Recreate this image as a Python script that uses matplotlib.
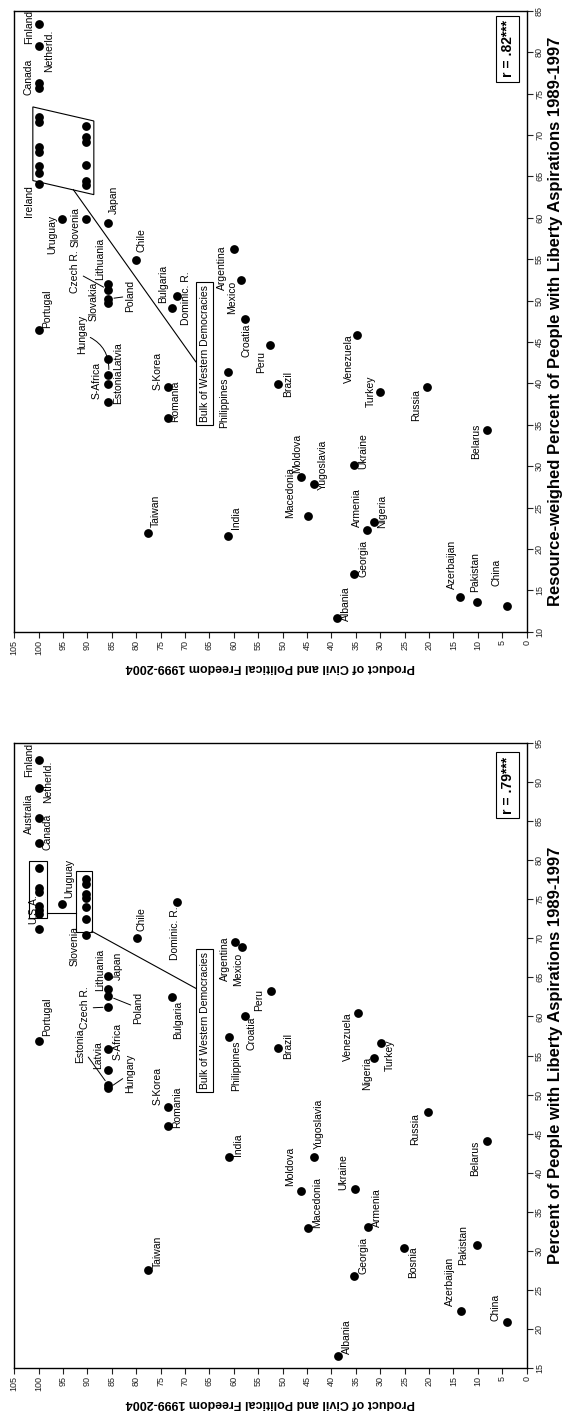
import matplotlib
matplotlib.use('Agg')
import matplotlib.pyplot as plt
from matplotlib.patches import Polygon, Rectangle

plt.rcParams['font.family'] = ['Liberation Sans', 'DejaVu Sans']

# ---- top panel: resource-weighed aspirations vs freedom ----
top_names = ['Finland', 'Netherld.', 'Canada', '',
             '', '', '', '', '', '',
             '', '', '', '', '', '',
             'Ireland', 'Uruguay', 'Slovenia', 'Japan', 'Chile',
             'Lithuania', 'Czech R.', 'Poland', 'Slovakia', 'Portugal',
             'Bulgaria', 'Dominic. R.', 'Argentina', 'Mexico', 'Croatia', 'Peru',
             'Latvia', 'Hungary', 'S-Africa', 'Estonia', 'S-Korea', 'Romania',
             'Philippines', 'Brazil', 'Taiwan', 'India', 'Venezuela', 'Turkey',
             'Russia', 'Belarus', 'Ukraine', 'Moldova', 'Yugoslavia', 'Macedonia',
             'Armenia', 'Nigeria', 'Georgia', 'Albania', 'Azerbaijan', 'Pakistan', 'China']
top_freedom = [100, 100, 100, 100,
               100, 100, 100, 100, 100, 100,
               90.4, 90.4, 90.4, 90.4, 90.4, 90.4,
               100, 95.2, 90.4, 85.7, 80.1,
               85.7, 85.7, 85.7, 85.7, 100,
               72.7, 71.7, 59.9, 58.6, 57.7, 52.5,
               85.7, 85.7, 85.7, 85.7, 73.4, 73.4,
               61.3, 51.0, 77.5, 61.3, 34.7, 30.1,
               20.5, 8.2, 35.4, 46.3, 43.6, 44.9,
               32.7, 31.3, 35.4, 38.8, 13.7, 10.2, 4.1]
top_aspir = [83.4, 80.7, 76.3, 75.7,
             72.2, 71.6, 68.5, 67.9, 66.2, 65.4,
             71.1, 69.8, 69.2, 66.4, 64.5, 64.0,
             64.1, 59.8, 59.8, 59.4, 54.9,
             51.95, 51.3, 50.2, 49.7, 46.5,
             49.1, 50.6, 56.2, 52.5, 47.8, 44.6,
             42.9, 41.0, 39.9, 37.8, 39.5, 35.8,
             41.4, 39.9, 21.9, 21.5, 45.9, 38.9,
             39.5, 34.4, 30.1, 28.7, 27.8, 24.0,
             22.3, 23.2, 17.0, 11.6, 14.2, 13.6, 13.1]

# ---- bottom panel: plain aspirations vs freedom ----
bot_names = ['Finland', 'Netherld.', 'Australia', 'Canada',
             '', '', '', '', '', '',
             'U.S.A.', 'Uruguay',
             '', '', '', '', '', '',
             'Slovenia', 'Chile', 'Dominic. R.', 'Japan', 'Lithuania', 'Poland',
             'Czech R.', 'Bulgaria', 'Argentina', 'Mexico', 'Peru', 'Croatia',
             'Philippines', 'Portugal', 'Brazil', 'S-Africa', 'Latvia', 'Estonia',
             'Hungary', 'S-Korea', 'Romania', 'India', 'Taiwan', 'Venezuela',
             'Turkey', 'Nigeria', 'Russia', 'Belarus', 'Yugoslavia', 'Moldova',
             'Ukraine', 'Macedonia', 'Armenia', 'Bosnia', 'Pakistan', 'Georgia',
             'Azerbaijan', 'China', 'Albania']
bot_freedom = [100, 100, 100, 100,
               100, 100, 100, 100, 100, 100,
               100, 95.2,
               90.4, 90.4, 90.4, 90.4, 90.4, 90.4,
               90.4, 79.9, 71.7, 85.7, 85.7, 85.7,
               85.7, 72.7, 59.8, 58.4, 52.3, 57.7,
               61.1, 100, 50.9, 85.7, 85.7, 85.7,
               85.7, 73.4, 73.4, 61.1, 77.5, 34.6,
               29.9, 31.2, 20.3, 8.1, 43.5, 46.3,
               35.2, 44.9, 32.6, 25.1, 10.1, 35.3,
               13.5, 4.0, 38.7]
bot_aspir = [92.8, 89.2, 85.4, 82.2,
             79.0, 76.5, 75.9, 74.2, 73.6, 73.1,
             71.2, 74.4,
             77.6, 77.0, 75.7, 75.1, 74.0, 72.5,
             70.4, 70.1, 74.6, 65.2, 63.5, 62.6,
             61.2, 62.5, 69.5, 68.9, 63.3, 60.1,
             57.4, 56.8, 55.9, 55.8, 53.2, 51.2,
             50.8, 48.4, 46.0, 42.0, 27.5, 60.5,
             56.6, 54.7, 47.8, 44.0, 42.0, 37.7,
             37.9, 32.9, 33.0, 30.3, 30.7, 26.8,
             22.3, 20.9, 16.5]

freedom_ticks = list(range(0, 106, 5))
top_ticks = list(range(10, 86, 5))
bot_ticks = list(range(15, 96, 5))

# label offsets in pixels (right, down) from the dot
top_offsets = {
    'Finland': (-10, 3), 'Netherld.': (10, 4), 'Canada': (-10, -6),
    'Ireland': (-10, 17), 'Uruguay': (-10, 15), 'Slovenia': (-10, 8),
    'Japan': (5, -23), 'Chile': (6, -20), 'Lithuania': (-8, -26),
    'Czech R.': (-33, -18), 'Slovakia': (-15, -2), 'Poland': (22, -3),
    'Portugal': (8, -21), 'Bulgaria': (-9, -24), 'Dominic. R.': (9, 3),
    'Argentina': (-12, 18), 'Mexico': (-9, 18), 'Croatia': (1, 22),
    'Peru': (-9, 17), 'Latvia': (10, -3), 'Hungary': (-26, -41),
    'S-Africa': (-12, -4), 'Estonia': (10, -15), 'S-Korea': (-11, -16),
    'Romania': (7, -17), 'Philippines': (-3, 31), 'Brazil': (10, 0),
    'Taiwan': (7, -22), 'India': (8, -19), 'Venezuela': (-8, 24),
    'Turkey': (-9, -1), 'Russia': (-11, 18), 'Belarus': (-11, 12),
    'Ukraine': (9, -14), 'Moldova': (-4, -23), 'Macedonia': (-17, -23),
    'Yugoslavia': (9, -19), 'Armenia': (-10, -22), 'Nigeria': (8, -11),
    'Georgia': (10, -15), 'Albania': (9, -15), 'Azerbaijan': (-8, -32),
    'Pakistan': (-2, -30), 'China': (-10, -34)}
top_leaders = {'Czech R.': 'arc3,rad=0', 'Poland': 'arc3,rad=0',
               'Hungary': 'arc3,rad=-0.4'}

bot_offsets = {
    'Finland': (-10, 0), 'Netherld.': (9, -7), 'Australia': (-10, -4),
    'Canada': (9, -11), 'Uruguay': (7, -26), 'U.S.A.': (-5, -20),
    'Slovenia': (-11, 11), 'Chile': (5, -18), 'Dominic. R.': (-2, 31),
    'Japan': (9, -10), 'Lithuania': (-8, -19), 'Czech R.': (-23, 1),
    'Estonia': (-28, -39), 'Hungary': (22, -15), 'Latvia': (-10, -14),
    'S-Africa': (9, -8), 'Poland': (30, 12), 'Bulgaria': (6, 23),
    'Argentina': (-10, 17), 'Mexico': (-4, 23), 'Peru': (-12, 9),
    'Croatia': (6, 18), 'Philippines': (8, 29), 'Brazil': (10, -2),
    'Portugal': (8, -25), 'S-Korea': (-11, -21), 'Romania': (9, -19),
    'India': (9, -12), 'Taiwan': (9, -18), 'Venezuela': (-10, 24),
    'Turkey': (9, 12), 'Nigeria': (-7, 16), 'Russia': (-12, 17),
    'Belarus': (-12, 17), 'Yugoslavia': (4, -33), 'Moldova': (-11, -24),
    'Macedonia': (10, -26), 'Ukraine': (-12, -17), 'Armenia': (9, -20),
    'Georgia': (9, -20), 'Bosnia': (9, 14), 'Pakistan': (-14, 0),
    'Azerbaijan': (-11, -30), 'China': (-12, -14), 'Albania': (9, -20)}
bot_leaders = {'Czech R.': 'arc3,rad=0', 'Poland': 'arc3,rad=0',
               'Estonia': 'arc3,rad=0', 'Hungary': 'arc3,rad=0'}


def draw_panel(ax, names, freedom, aspir, offsets, leaders, yticks,
               ylabel, r_text, r_pos):
    ax.scatter(freedom, aspir, s=40, c='black', linewidths=0, zorder=3)
    for n, f, a in zip(names, freedom, aspir):
        if not n:
            continue
        dx, dy = offsets[n]
        kw = {}
        if n in leaders:
            kw['arrowprops'] = dict(arrowstyle='-', color='black', lw=0.7,
                                    shrinkA=0, shrinkB=4,
                                    connectionstyle=leaders[n])
        ax.annotate(n, (f, a), xytext=(dx, -dy), textcoords='offset pixels',
                    rotation=90, ha='center', va='center', fontsize=7.5, **kw)

    ax.set_xlim(105, 0)
    ax.set_ylim(yticks[0], yticks[-1])
    ax.set_xticks(freedom_ticks)
    ax.set_yticks(yticks)
    ax.yaxis.tick_right()
    ax.yaxis.set_label_position('right')
    ax.tick_params(direction='out', length=4, width=0.8, labelsize=6.5,
                   pad=2, colors='#222222')
    plt.setp(ax.get_xticklabels(), rotation=90, ha='center', va='top')
    plt.setp(ax.get_yticklabels(), rotation=90, ha='left', va='center')
    for s in ax.spines.values():
        s.set_linewidth(1.0)
    ax.set_xlabel('Product of Civil and Political Freedom 1999-2004',
                  rotation=180, fontweight='bold', fontsize=9, labelpad=4)
    ax.set_ylabel(ylabel, rotation=90, fontweight='bold', fontsize=12,
                  labelpad=3)
    ax.text(r_pos[0], r_pos[1], r_text, rotation=90, ha='center',
            va='center', fontweight='bold', fontsize=10,
            bbox=dict(boxstyle='square,pad=0.3', fc='white', ec='black',
                      lw=0.8))


fig = plt.figure(figsize=(5.67, 14.15), dpi=100)
ax1 = fig.add_axes([0.0252, 0.5536, 0.9037, 0.4387])
ax2 = fig.add_axes([0.0252, 0.0332, 0.9037, 0.4417])

draw_panel(ax1, top_names, top_freedom, top_aspir, top_offsets, top_leaders,
           top_ticks,
           'Resource-weighed Percent of People with Liberty Aspirations 1989-1997',
           'r = .82***', (3.9, 80.4))
draw_panel(ax2, bot_names, bot_freedom, bot_aspir, bot_offsets, bot_leaders,
           bot_ticks,
           'Percent of People with Liberty Aspirations 1989-1997',
           'r = .79***', (3.9, 89.6))

bulk_box = dict(boxstyle='square,pad=0.3', fc='white', ec='black', lw=0.8)

# top panel: bulk of western democracies
ax1.add_patch(Polygon([(101.2, 73.4), (88.7, 71.7), (88.7, 62.8), (101.2, 64.5)],
                      closed=True, fill=False, lw=0.8, zorder=2))
ax1.plot([92.9, 67.8], [63.4, 42.6], color='black', lw=0.8, zorder=2)
ax1.text(66.0, 43.6, 'Bulk of Western Democracies', rotation=90, ha='center',
         va='center', fontsize=7.5, bbox=bulk_box, zorder=4)

# bottom panel
ax2.add_patch(Rectangle((98.2, 72.6), 3.7, 7.3, fill=False, lw=0.8, zorder=2))
ax2.add_patch(Rectangle((89.1, 70.8), 3.3, 7.8, fill=False, lw=0.8, zorder=2))
ax2.plot([98.2, 92.4], [73.2, 73.2], color='black', lw=0.8, zorder=2)
ax2.plot([89.1, 67.8], [70.9, 63.6], color='black', lw=0.8, zorder=2)
ax2.text(66.0, 59.5, 'Bulk of Western Democracies', rotation=90, ha='center',
         va='center', fontsize=7.5, bbox=bulk_box, zorder=4)

fig.savefig('out.png', dpi=100)
